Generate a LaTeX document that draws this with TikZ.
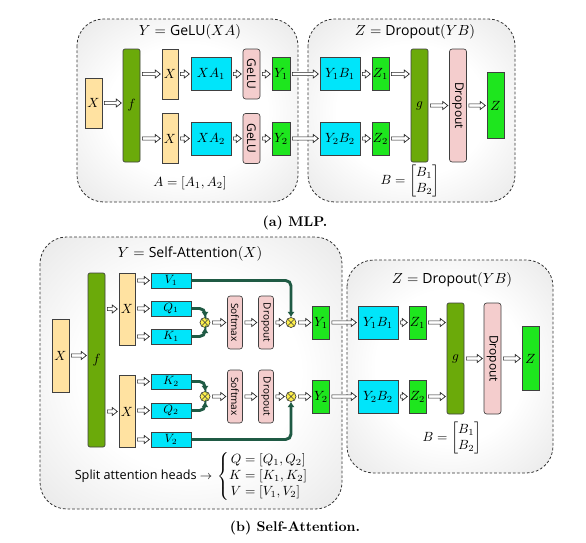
\documentclass[tikz,border=0pt]{standalone}
\usepackage{amsmath}
\usepackage{graphicx}
\usepackage{fontspec}
\setsansfont{Open Sans}
\usetikzlibrary{arrows.meta,calc}
\definecolor{xcol}{HTML}{FFE2A1}
\definecolor{fgcol}{HTML}{6BAA0A}
\definecolor{wcol}{HTML}{00E5FA}
\definecolor{ycol}{HTML}{1EE61E}
\definecolor{opcol}{HTML}{F4CDCD}
\definecolor{headcol}{HTML}{1F5A44}
\definecolor{mulcol}{HTML}{FFF04C}
\pgfdeclareradialshading{panelshade}{\pgfpoint{0bp}{0bp}}{%
  color(0bp)=(white); color(18bp)=(white); color(36bp)=(black!9);
  color(50bp)=(black!24); color(71bp)=(black!40)}
\tikzset{
  blk/.style 2 args={draw=black!75, line width=0.5pt, inner sep=0pt,
    minimum width=#1*0.75pt, minimum height=#2*0.75pt},
  xbox/.style 2 args={blk={#1}{#2}, fill=xcol},
  fgbox/.style 2 args={blk={#1}{#2}, fill=fgcol, rounded corners=1.5pt},
  wbox/.style 2 args={blk={#1}{#2}, fill=wcol},
  ybox/.style 2 args={blk={#1}{#2}, fill=ycol},
  opbox/.style 2 args={blk={#1}{#2}, fill=opcol, rounded corners=2pt,
    font=\sffamily\fontsize{9}{10}\selectfont},
  mulnode/.style={circle, draw=black!75, line width=0.5pt, fill=mulcol, inner sep=0pt,
    minimum size=10*0.75pt,
    path picture={\draw[black!75, line width=0.5pt]
      (path picture bounding box.north west) -- (path picture bounding box.south east)
      (path picture bounding box.north east) -- (path picture bounding box.south west);}},
  % hollow arrow, always left to right
  dar/.style={draw=black!85, fill=white, line width=0.5pt, line join=miter,
    to path={let \p1=($(\tikztostart)+(1.5pt,0)$), \p2=($(\tikztotarget)+(-1pt,0)$) in
      (\x1,\y1+1.2pt) -- (\x2-3.8pt,\y1+1.2pt) -- (\x2-3.8pt,\y1+3pt) -- (\x2,\y1)
      -- (\x2-3.8pt,\y1-3pt) -- (\x2-3.8pt,\y1-1.2pt) -- (\x1,\y1-1.2pt) -- cycle}},
  headarr/.style={draw=headcol, line width=2.2pt, rounded corners=4pt,
    -{Latex[length=4pt,width=5.5pt]}},
  panel/.style={draw=black!80, line width=0.6pt, dash pattern=on 2pt off 1.5pt,
    rounded corners=20pt, shading=panelshade, shade},
  ttl/.style={font=\fontsize{10.5}{12}\selectfont},
  capt/.style={font=\bfseries\fontsize{10.5}{12}\selectfont}
}
\begin{document}
\begin{tikzpicture}[x=0.75pt,y=-0.75pt]
\useasboundingbox (0,0) rectangle (586,543);

% (a) MLP
\draw[panel] (77,19) rectangle (298,202);
\draw[panel] (308,19) rectangle (515,202);
\node[ttl] (tya) at (190,32) {$Y = \text{\sffamily GeLU}(XA)$};
\node[ttl] (tza) at (415,32) {$Z = \text{\sffamily Dropout}(YB)$};

\node[xbox={17}{50}] (xa) at (93.5,103) {$X$};
\node[fgbox={17}{113}] (fa) at (131.5,105.5) {$f$};
\node[xbox={16}{50}] (xa1) at (170,74) {$X$};
\node[xbox={16}{50}] (xa2) at (170,138.5) {$X$};
\node[wbox={40}{33}] (pa1) at (211,74) {$XA_1$};
\node[wbox={40}{33}] (pa2) at (211,138.5) {$XA_2$};
\node[opbox={17}{50}] (ga1) at (251.5,74) {\rotatebox{-90}{GeLU}};
\node[opbox={17}{50}] (ga2) at (251.5,138.5) {\rotatebox{-90}{GeLU}};
\node[ybox={18}{33}] (ya1) at (281,74) {$Y_1$};
\node[ybox={18}{33}] (ya2) at (281,138.5) {$Y_2$};
\node (am) at (190,183) {$A = [A_1, A_2]$};

\node[wbox={40}{33}] (yba1) at (340,74) {$Y_1B_1$};
\node[wbox={40}{33}] (yba2) at (340,138.5) {$Y_2B_2$};
\node[ybox={17}{33}] (za1) at (380.5,74) {$Z_1$};
\node[ybox={17}{33}] (za2) at (380.5,138.5) {$Z_2$};
\node[fgbox={17}{113}] (ga) at (419.5,105.5) {$g$};
\node[opbox={17}{113}] (da) at (458,105.5) {\rotatebox{-90}{Dropout}};
\node[ybox={17}{66}] (za) at (495.5,105.5) {$Z$};
\node (bma) at (410,181) {$B = \begin{bmatrix}B_1\\B_2\end{bmatrix}$};

\draw[dar] (xa.east) to (xa.east -| fa.west);
\foreach \i in {1,2}{
  \draw[dar] (xa\i.west -| fa.east) to (xa\i.west);
  \draw[dar] (xa\i.east) to (pa\i.west);
  \draw[dar] (pa\i.east) to (ga\i.west);
  \draw[dar] (ga\i.east) to (ya\i.west);
  \draw[dar] (ya\i.east) to (yba\i.west);
  \draw[dar] (yba\i.east) to (za\i.west);
  \draw[dar] (za\i.east) to (za\i.east -| ga.west);
}
\draw[dar] (ga.east) to (da.west);
\draw[dar] (da.east) to (za.west);
\node[capt] (capa) at (295,223) {(a) MLP.};

% (b) Self-Attention
\draw[panel] (40,237) rectangle (342,509);
\draw[panel] (347,260) rectangle (553,473);
\node[ttl] (tyb) at (190,254) {$Y = \text{\sffamily Self-Attention}(X)$};
\node[ttl] (tzb) at (452,280) {$Z = \text{\sffamily Dropout}(YB)$};

\node[xbox={17}{73}] (xb) at (60.5,355.5) {$X$};
\node[fgbox={17}{174}] (fb) at (96.5,360) {$f$};
\node[xbox={16}{72}] (xb1) at (127,309) {$X$};
\node[xbox={16}{72}] (xb2) at (127,411.5) {$X$};
\foreach \w/\t/\y in {v1/V_1/280.5, q1/Q_1/308.5, k1/K_1/336.5,
                      k2/K_2/381.5, q2/Q_2/410.5, v2/V_2/439.5}
  \node[wbox={40}{15}, font=\fontsize{9}{10}\selectfont] (\w) at (171,\y) {$\t$};
\node[mulnode] (o1) at (205,322.5) {};
\node[mulnode] (o2) at (291,322.5) {};
\node[mulnode] (o3) at (205,396.5) {};
\node[mulnode] (o4) at (291,396.5) {};
\node[opbox={15}{53}, font=\sffamily\fontsize{7.5}{9}\selectfont] (s1) at (235,322.5) {\rotatebox{-90}{Softmax}};
\node[opbox={15}{53}, font=\sffamily\fontsize{7.5}{9}\selectfont] (d1) at (266,322.5) {\rotatebox{-90}{Dropout}};
\node[opbox={15}{53}, font=\sffamily\fontsize{7.5}{9}\selectfont] (s2) at (235,396.5) {\rotatebox{-90}{Softmax}};
\node[opbox={15}{53}, font=\sffamily\fontsize{7.5}{9}\selectfont] (d2) at (266,396.5) {\rotatebox{-90}{Dropout}};
\node[ybox={17}{33}] (yb1) at (321,322.5) {$Y_1$};
\node[ybox={17}{33}] (yb2) at (321,396.5) {$Y_2$};

\node[wbox={40}{33}] (ybb1) at (378,322.5) {$Y_1B_1$};
\node[wbox={40}{33}] (ybb2) at (378,396.5) {$Y_2B_2$};
\node[ybox={17}{33}] (zb1) at (417.5,322.5) {$Z_1$};
\node[ybox={17}{33}] (zb2) at (417.5,396.5) {$Z_2$};
\node[fgbox={17}{111}] (gb) at (455.5,358.5) {$g$};
\node[opbox={17}{111}] (db) at (492.5,358.5) {\rotatebox{-90}{Dropout}};
\node[ybox={17}{64}] (zb) at (530.5,358.5) {$Z$};
\node (bmb) at (452,438) {$B = \begin{bmatrix}B_1\\B_2\end{bmatrix}$};

\node[anchor=east, font=\sffamily\fontsize{9.5}{11}\selectfont] (sah) at (217,476) {Split attention heads $\rightarrow$};
\node[anchor=west, inner sep=0pt] (qkv) at (sah.east) {$\left\{\begin{array}{@{}r@{}l@{}}
  Q & {}=[Q_1,Q_2]\\ K & {}=[K_1,K_2]\\ V & {}=[V_1,V_2]\end{array}\right.$};

\draw[dar] (xb.east) to (xb.east -| fb.west);
\draw[dar] (xb1.west -| fb.east) to (xb1.west);
\draw[dar] (xb2.west -| fb.east) to (xb2.west);
\foreach \w in {v1,q1,k1}
  \draw[dar] (\w.west -| xb1.east) to (\w.west);
\foreach \w in {k2,q2,v2}
  \draw[dar] (\w.west -| xb2.east) to (\w.west);
\draw[headarr] (q1.east) -| (o1.north);
\draw[headarr] (k1.east) -| (o1.south);
\draw[headarr] (v1.east) -| (o2.north);
\draw[headarr] (k2.east) -| (o3.north);
\draw[headarr] (q2.east) -| (o3.south);
\draw[headarr] (v2.east) -| (o4.south);
\foreach \i/\j/\k in {o1/s1/d1, o3/s2/d2}{
  \draw[dar] (\i.east) to (\j.west);
  \draw[dar] (\j.east) to (\k.west);
}
\draw[dar] (d1.east) to (o2.west);
\draw[dar] (o2.east) to (yb1.west);
\draw[dar] (d2.east) to (o4.west);
\draw[dar] (o4.east) to (yb2.west);
\foreach \i in {1,2}{
  \draw[dar] (yb\i.east) to (ybb\i.west);
  \draw[dar] (ybb\i.east) to (zb\i.west);
  \draw[dar] (zb\i.east) to (zb\i.east -| gb.west);
}
\draw[dar] (gb.east) to (db.west);
\draw[dar] (db.east) to (zb.west);
\node[capt] (capb) at (295,528) {(b) Self-Attention.};
\end{tikzpicture}
\end{document}
